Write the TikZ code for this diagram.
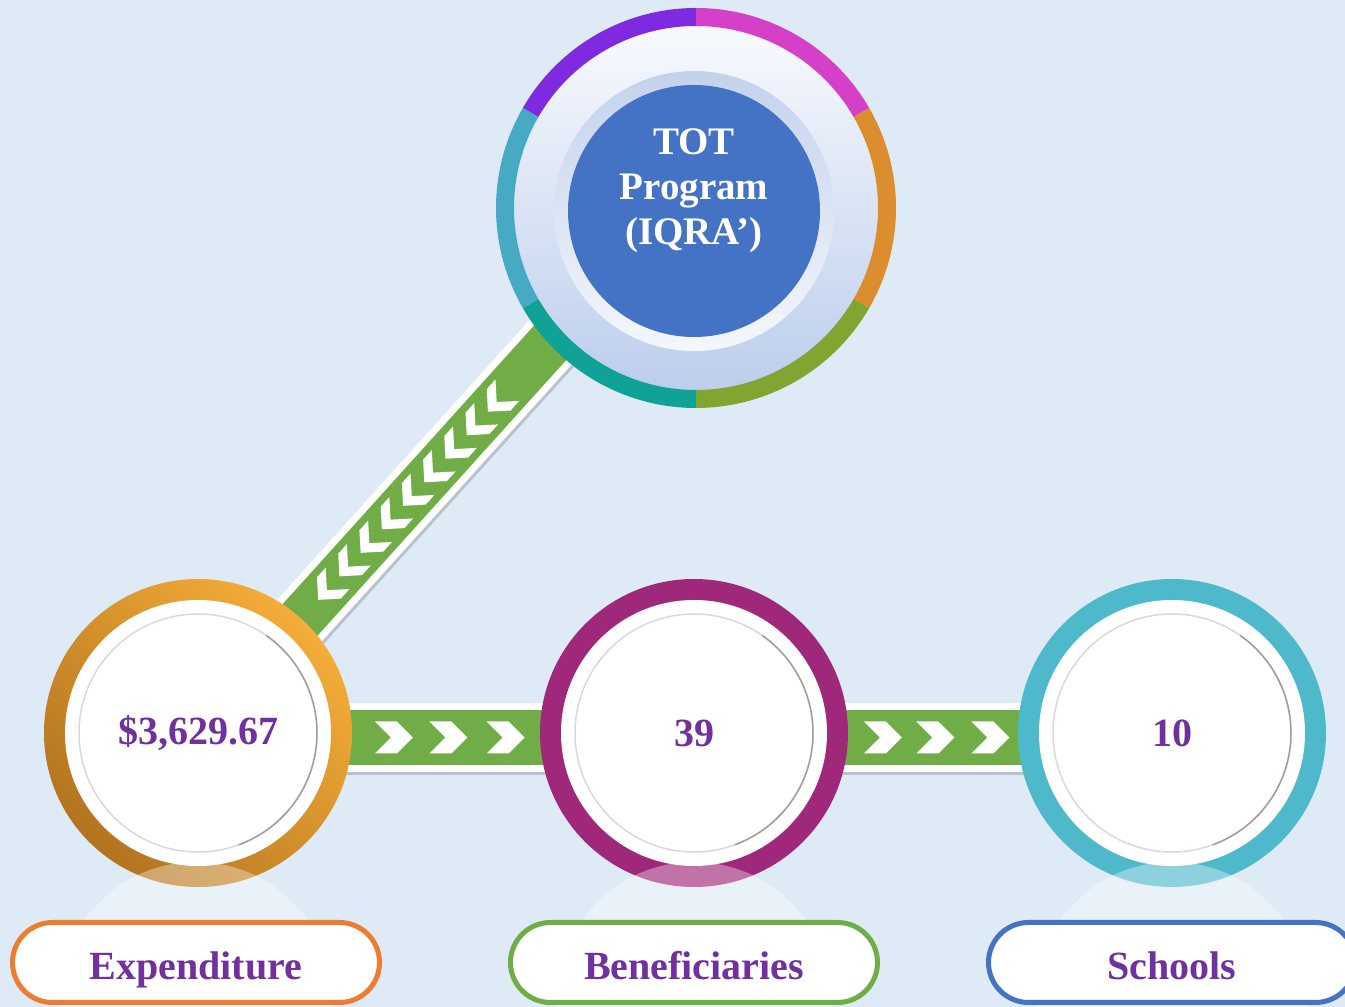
\documentclass[tikz,border=0pt]{standalone}
\usepackage{fontspec}
\setmainfont{Liberation Serif}
\usetikzlibrary{calc,backgrounds}

\definecolor{bgblue}{HTML}{DEEAF6}
\definecolor{bandgreen}{HTML}{70AD47}
\definecolor{shadowgray}{HTML}{B9C3D0}
\definecolor{textpurple}{HTML}{7030A0}
\definecolor{discblue}{HTML}{4472C4}
\definecolor{plateA}{HTML}{F8FAFE}
\definecolor{plateB}{HTML}{BCCEEC}
\definecolor{wellA}{HTML}{C3D2EC}
\definecolor{wellB}{HTML}{F4F7FC}
\definecolor{segpurple}{HTML}{7E2AE0}
\definecolor{segmagenta}{HTML}{D540C8}
\definecolor{segorange}{HTML}{DC8E2E}
\definecolor{seggreen}{HTML}{80A631}
\definecolor{segteal}{HTML}{10A297}
\definecolor{segcyan}{HTML}{47AAC4}
\definecolor{ringgold}{HTML}{F4AD38}
\definecolor{ringbronze}{HTML}{B3741F}
\definecolor{ringplum}{HTML}{A0287A}
\definecolor{ringaqua}{HTML}{4FB9CC}
\definecolor{pillorange}{HTML}{ED7D31}
\definecolor{pillgreen}{HTML}{70AD47}
\definecolor{pillblue}{HTML}{4472C4}

\tikzset{
  totdisc/.style={circle,fill=discblue,minimum size=252,inner sep=0pt},
  totlabel/.style={align=center,text=white,font=\fontsize{39}{45}\selectfont\bfseries},
  valdisc/.style={circle,fill=white,minimum size=266,inner sep=0pt,text=textpurple,font=\fontsize{40}{46}\selectfont\bfseries},
  pill/.style={rounded corners=40,minimum width=367,minimum height=80,fill=white,line width=5,text=textpurple,
    text height=28,text depth=8,font=\fontsize{40}{48}\selectfont\bfseries},
  chevron/.pic={\fill[white] (-19,16) -- (3,16) -- (19,0) -- (3,-16) -- (-19,-16) -- (-3,0) -- cycle;},
  thinchevron/.pic={\fill[white] (-14.5,16) -- (-1.5,16) -- (14.5,0) -- (-1.5,-16) -- (-14.5,-16) -- (1.5,0) -- cycle;}
}

\begin{document}
\begin{tikzpicture}[x=1pt,y=1pt]
\useasboundingbox (0,0) rectangle (1345,1007);

\shade[top color=plateA,bottom color=plateB] (696,799) circle (183);
\foreach \s/\col in {90/segpurple,30/segmagenta,-30/segorange,-90/seggreen,-150/segteal,150/segcyan}{
  \draw[line width=18,\col] ($(696,799)+(\s:191)$) arc (\s:\s+60:191);
}
\shade[top color=wellA,bottom color=wellB] (694,796) circle (140);
\node[totdisc] (tot) at (694,796) {};
\node[totlabel] (totlabel) at (694,816) {TOT\\Program\\(IQRA’)};

\foreach \name/\x/\ctop/\cbot/\val in {
    exp/198/ringgold/ringbronze/{\$3,629.67},
    ben/694/ringplum/ringplum/39,
    sch/1172/ringaqua/ringaqua/10%
}{
  \shade[top color=\ctop,bottom color=\cbot,shading angle=-45] (\x,274) circle (154);
  \node[valdisc] (\name) at (\x,274) {\val};
  \draw[gray!30,line width=1.5] (\name.center) circle (119);
  \draw[gray!75,line width=1.5] ($(\name.center)+(55:119)$) arc (55:-70:119);
}

\foreach \name/\x/\col/\txt in {exp/196/pillorange/Expenditure, ben/694/pillgreen/Beneficiaries, sch/1172/pillblue/Schools}{
  \fill[white,opacity=.35] (\x,8) circle (137);
  \node[pill,draw=\col] (\name-lbl) at (\x,44.5) {};
  \node[text=textpurple,text height=28,text depth=8,font=\fontsize{40}{48}\selectfont\bfseries] (\name-txt) at (\x,37.5) {\txt};
}

\begin{scope}[on background layer]
\fill[bgblue] (0,0) rectangle (1345,1007);
\coordinate (diagend) at ($(tot.center)+(-24,1)$);
\draw[line width=61,shadowgray] ([shift={(2,-2.5)}]exp.center) -- ([shift={(2,-2.5)}]diagend);
\draw[line width=61,white] (exp.center) -- (diagend);
\draw[line width=47,bandgreen] (exp.center) -- (diagend);
\foreach \k in {0,...,8}{
  \pgfmathsetmacro\t{(194+31.7*\k)/705}
  \pic[rotate=228] at ($(exp.center)!\t!(diagend)$) {thinchevron};
}
\foreach \a/\b in {exp/ben,ben/sch}{
  \draw[line width=69,shadowgray] ([yshift=-8]\a.center) -- ([yshift=-8]\b.center);
  \draw[line width=69,white] ([yshift=-4.5]\a.center) -- ([yshift=-4.5]\b.center);
  \draw[line width=55,bandgreen] ([yshift=-4.5]\a.center) -- ([yshift=-4.5]\b.center);
  \foreach \t in {.395,.505,.62}
    \pic at ($([yshift=-4.5]\a.center)!\t!([yshift=-4.5]\b.center)$) {chevron};
}
\end{scope}
\end{tikzpicture}
\end{document}
